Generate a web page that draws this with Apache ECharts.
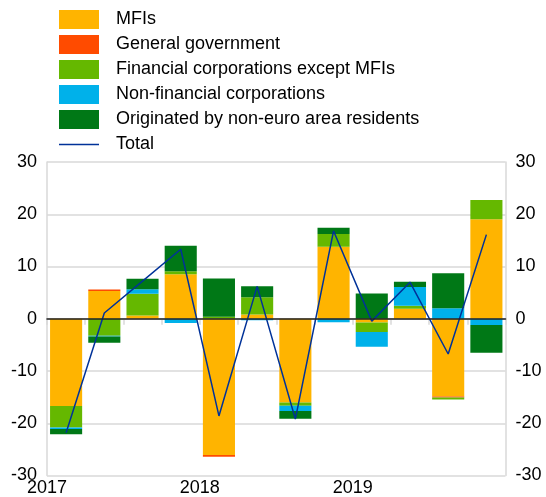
<!DOCTYPE html>
<html>
<head>
<meta charset="utf-8">
<script src="https://cdn.jsdelivr.net/npm/echarts@6.0.0/dist/echarts.min.js"></script>
<style>
    html, body {margin: 0; padding: 0; background: #fff;}
    #chartBox {width: 546px; height: 497px;}
</style>
</head>
<body>
<div id="chartBox"></div>
<script>
    // quarters 2017Q1 - 2019Q4
    var quarters = ['2017Q1', '2017Q2', '2017Q3', '2017Q4', '2018Q1', '2018Q2', '2018Q3', '2018Q4', '2019Q1', '2019Q2', '2019Q3', '2019Q4'];
    var yearLabels = ['2017', '2018', '2019'];
    var yTicks = [-30, -20, -10, 0, 10, 20, 30];

    var mfis      = [-16.7, 5.3, 0.6, 8.5, -26.1, 0.8, -16.05, 13.8, -0.7, 1.9, -14.9, 19.05];
    var genGov    = [0, 0.3, 0, 0, -0.3, 0, 0, 0, 0, 0, -0.15, 0];
    var finCorp   = [-4.1, -3.25, 4.2, 0.6, 0.4, 3.3, -0.6, 2.4, -1.85, 0.6, -0.4, 3.7];
    var nonFin    = [-0.3, -0.15, 0.85, -0.8, 0, -0.3, -1.0, -0.65, -2.8, 3.6, 2.0, -1.2];
    var nonEuro   = [-1.0, -1.2, 2.0, 4.85, 7.3, 2.1, -1.5, 1.2, 4.85, 1.0, 6.7, -5.3];
    var total     = [-21.8, 1.1, 7.2, 13.3, -18.6, 6.2, -19.2, 16.8, -0.45, 7.0, -6.75, 16.1];

    var barList = [
        {name: 'MFIs', data: mfis, color: '#ffb400'},
        {name: 'General government', data: genGov, color: '#ff4b00'},
        {name: 'Financial corporations except MFIs', data: finCorp, color: '#65b800'},
        {name: 'Non-financial corporations', data: nonFin, color: '#00b1ea'},
        {name: 'Originated by non-euro area residents', data: nonEuro, color: '#007816'}
    ];

    var _font = '"Liberation Sans", Arial, Helvetica, sans-serif';
    var _grey = '#d9d9d9';

    function yAxisOpt(pos){
        return {
            type: 'value',
            position: pos,
            min: yTicks[0],
            max: yTicks[yTicks.length - 1],
            interval: 10,
            axisLine: {show: true, lineStyle: {color: _grey, width: 1.5}},
            axisTick: {show: false},
            splitLine: {show: pos == 'left', lineStyle: {color: _grey, width: 1.5}},
            axisLabel: {
                color: '#000',
                fontSize: 18,
                fontFamily: _font,
                margin: 10
            }
        };
    }

    function getParams(){
        var series = [];
        for(var i in barList){
            series.push({
                name: barList[i].name,
                type: 'bar',
                stack: 'all',
                xAxisIndex: 1,
                yAxisIndex: 0,
                barCategoryGap: '16%',
                itemStyle: {color: barList[i].color},
                data: barList[i].data
            });
        }
        series.push({
            name: 'Total',
            type: 'line',
            xAxisIndex: 1,
            yAxisIndex: 0,
            symbol: 'none',
            lineStyle: {color: '#003299', width: 1.5},
            itemStyle: {color: '#003299'},
            data: total,
            z: 5
        });

        return {
            animation: false,
            textStyle: {fontFamily: _font},
            legend: {
                orient: 'vertical',
                left: 59,
                top: 10,
                padding: 0,
                itemWidth: 40,
                itemHeight: 19,
                itemGap: 6,
                icon: 'rect',
                textStyle: {
                    color: '#000',
                    fontSize: 18,
                    fontFamily: _font,
                    lineHeight: 19,
                    padding: [0, 0, 0, 12]
                },
                data: [
                    {name: 'MFIs'},
                    {name: 'General government'},
                    {name: 'Financial corporations except MFIs'},
                    {name: 'Non-financial corporations'},
                    {name: 'Originated by non-euro area residents'},
                    {name: 'Total', icon: 'path://M0,9 L40,9 L40,10.5 L0,10.5 Z'}
                ]
            },
            grid: {
                left: 47,
                right: 40.5,
                top: 162,
                bottom: 21.5,
                outerBoundsMode: 'none'
            },
            xAxis: [
                {
                    // year labels and quarter ticks at the bottom
                    type: 'value',
                    position: 'bottom',
                    min: 0,
                    max: quarters.length,
                    interval: 1,
                    axisLine: {show: true, lineStyle: {color: _grey, width: 1.5}},
                    axisTick: {show: true, length: 6, lineStyle: {color: _grey, width: 1.5}},
                    splitLine: {show: false},
                    axisLabel: {
                        color: '#000',
                        fontSize: 18,
                        fontFamily: _font,
                        margin: 4,
                        showMinLabel: true,
                        showMaxLabel: true,
                        formatter: function(v){
                            if(v % 4 == 0 && v / 4 < yearLabels.length){
                                return yearLabels[v / 4];
                            }
                            return '';
                        }
                    }
                },
                {
                    // category axis for bars, line drawn at zero
                    type: 'category',
                    position: 'top',
                    data: quarters,
                    axisLine: {show: true, onZero: true, lineStyle: {color: '#222', width: 1.5}},
                    axisTick: {show: false},
                    axisLabel: {show: false},
                    splitLine: {show: false},
                    z: 10
                }
            ],
            yAxis: [yAxisOpt('left'), yAxisOpt('right')],
            series: series
        };
    }

    var _chart = echarts.init(document.getElementById('chartBox'));
    _chart.setOption(getParams());
</script>
</body>
</html>
